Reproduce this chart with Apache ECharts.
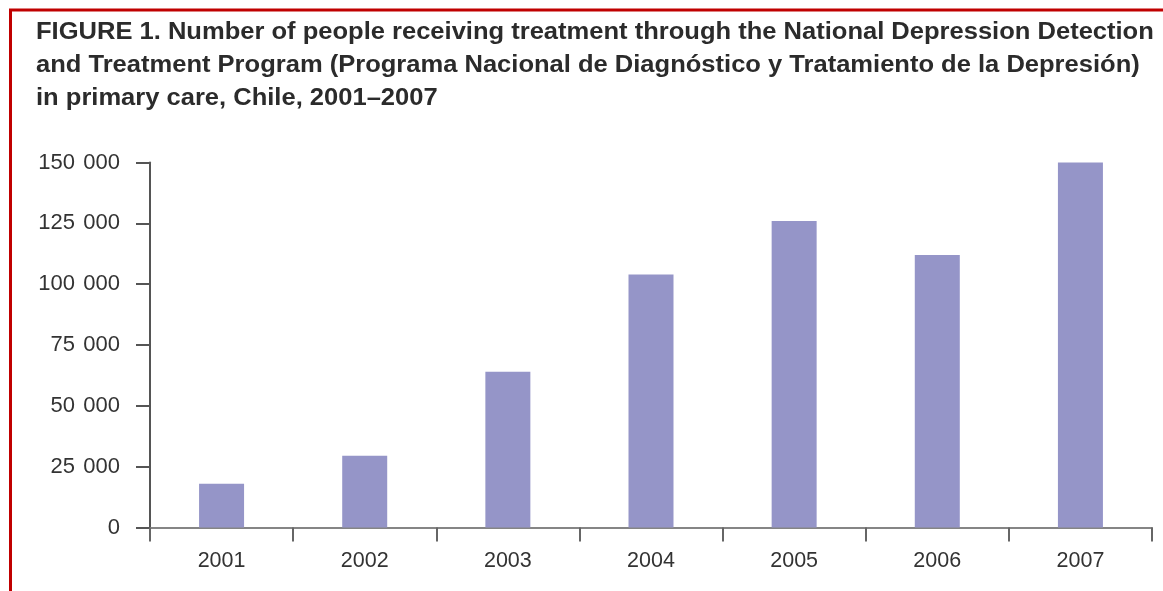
<!DOCTYPE html>
<html>
<head>
<meta charset="utf-8">
<script src="https://cdn.jsdelivr.net/npm/echarts@6/dist/echarts.min.js"></script>
<style>
html,body{margin:0;padding:0;background:#fff;}
#c{width:1163px;height:591px;}
</style>
</head>
<body>
<div id="c"></div>
<script>
const titleLines = [
  'FIGURE 1. Number of people receiving treatment through the National Depression Detection',
  'and Treatment Program (Programa Nacional de Diagnóstico y Tratamiento de la Depresión)',
  'in primary care, Chile, 2001–2007'
];
const years = ['2001', '2002', '2003', '2004', '2005', '2006', '2007'];
const people = [18000, 29500, 64000, 104000, 126000, 112000, 150000];
const yMin = 0, yMax = 150000, yStep = 25000;

const FONT = 'Liberation Sans, Arial, sans-serif';
const titleGraphics = titleLines.map((line, i) => ({
  type: 'text',
  silent: true,
  x: 36,
  y: 33 + i * 33,
  scaleX: 1.11,
  style: {
    text: line,
    font: 'bold 23px ' + FONT,
    fill: '#2b2b2b',
    verticalAlign: 'middle',
    align: 'left'
  }
}));

function fmtThousands(v) {
  const s = String(v);
  if (s.length <= 3) return '{n|' + s + '}';
  return '{n|' + s.slice(0, -3) + '}{s| }{n|' + s.slice(-3) + '}';
}

const chart = echarts.init(document.getElementById('c'), null, {renderer: 'canvas'});
chart.setOption({
  animation: false,
  backgroundColor: '#fff',
  grid: {left: 150, right: 11, top: 162.5, bottom: 63.5, containLabel: false},
  xAxis: {
    type: 'category',
    data: years,
    boundaryGap: true,
    axisLine: {lineStyle: {color: '#858585', width: 2}},
    axisTick: {show: true, length: 14, alignWithLabel: false, lineStyle: {color: '#666', width: 2}},
    axisLabel: {margin: 23, fontSize: 21.5, color: '#333', fontFamily: FONT}
  },
  yAxis: {
    type: 'value',
    min: yMin, max: yMax, interval: yStep,
    splitLine: {show: false},
    axisLine: {show: true, lineStyle: {color: '#555', width: 2}},
    axisTick: {show: true, length: 14, lineStyle: {color: '#555', width: 2}},
    axisLabel: {
      margin: 30, fontSize: 22, color: '#333', fontFamily: FONT,
      formatter: fmtThousands,
      rich: {
        n: {fontSize: 22, lineHeight: 22, color: '#333', fontFamily: FONT},
        s: {fontSize: 30, lineHeight: 22, color: '#333', fontFamily: FONT}
      }
    }
  },
  series: [{
    type: 'bar',
    data: people,
    barWidth: 45,
    itemStyle: {color: '#9595c8'}
  }],
  graphic: [{
    type: 'polyline',
    silent: true,
    shape: {points: [[10.5, 591], [10.5, 10], [1163, 10]]},
    style: {stroke: '#c00000', lineWidth: 3, fill: null}
  }].concat(titleGraphics)
});
</script>
</body>
</html>
